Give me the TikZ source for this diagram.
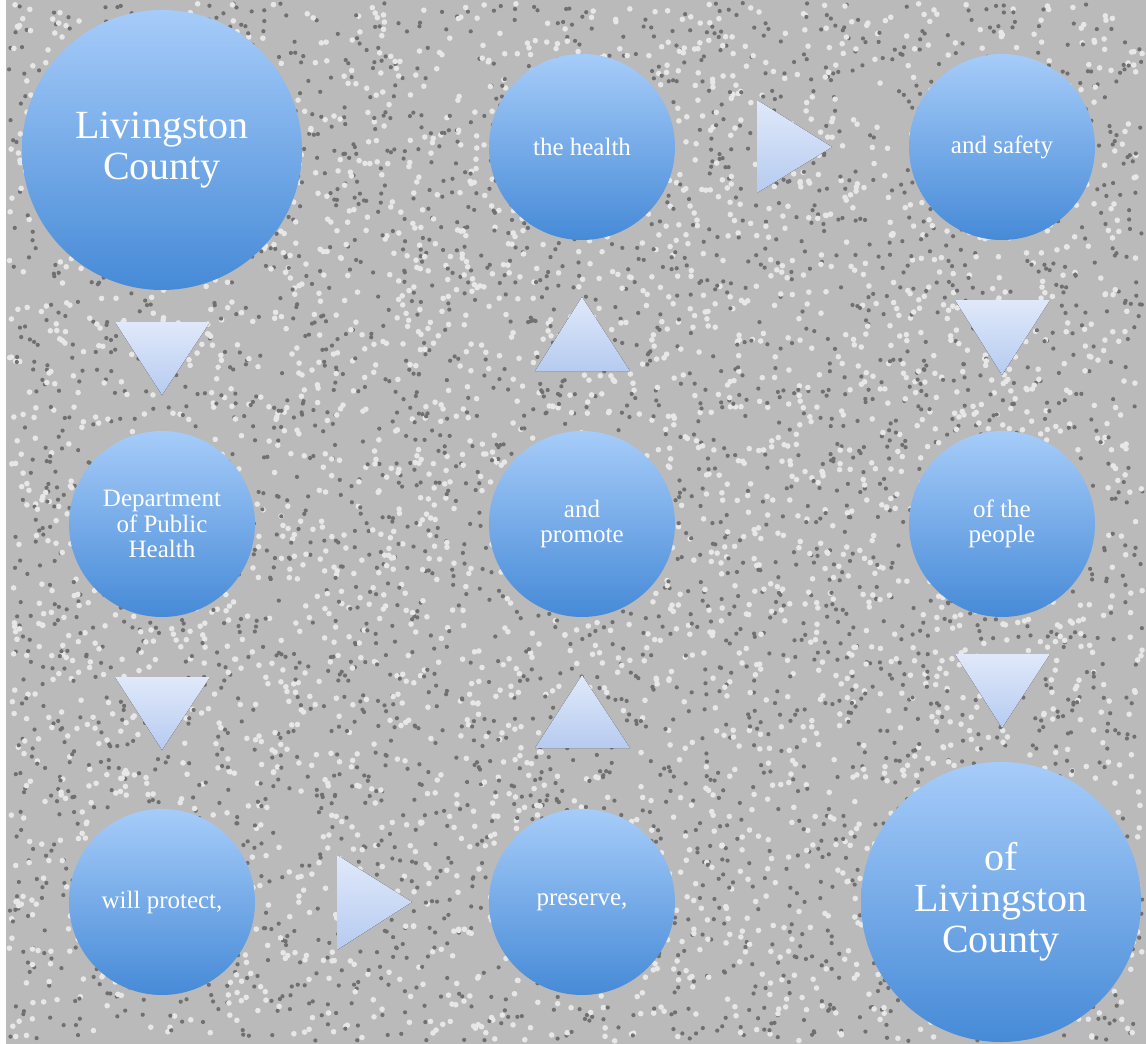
\documentclass[tikz,border=0pt]{standalone}
\usepackage{fontspec}
\setmainfont{Liberation Serif}
\definecolor{granite}{RGB}{186,186,186}
\definecolor{bubbletop}{RGB}{166,204,249}
\definecolor{bubblebot}{RGB}{70,138,215}
\definecolor{tritop}{RGB}{224,233,250}
\definecolor{tribot}{RGB}{182,203,240}
\begin{document}
\begin{tikzpicture}[x=1pt,y=-1pt,
    bubble/.style={circle, minimum size=186pt, inner sep=0pt, align=center, text=white,
      top color=bubbletop, bottom color=bubblebot, font=\fontsize{25}{25.5}\selectfont},
    bigbubble/.style={bubble, minimum size=280pt, font=\fontsize{40}{41}\selectfont},
    tri/.style={top color=tritop, bottom color=tribot}]
    \useasboundingbox (0,0) rectangle (1146,1044);
    % background
    \fill[white] (0,0) rectangle (1146,1044);
    \fill[granite] (6,0) rectangle (1146,1044);
    \pgfmathsetseed{11}
    \foreach \i in {1,...,3500} {
      \pgfmathsetmacro\px{9+1134*rnd}
      \pgfmathsetmacro\py{3+1038*rnd}
      \fill[granite!60!black] (\px,\py) circle (2.1pt);
      \pgfmathsetmacro\qx{9+1134*rnd}
      \pgfmathsetmacro\qy{3+1038*rnd}
      \fill[granite!35!white] (\qx,\qy) circle (2.8pt);
    }
    % circles
    \node[bigbubble] (county) at (162,150) {Livingston\\County};
    \node[bubble] (health) at (582,147) {the health};
    \node[bubble] (safety) at (1002,147) {and safety};
    \node[bubble] (dept) at (162,524) {Department\\of Public\\Health};
    \node[bubble] (promote) at (582,524) {and\\promote};
    \node[bubble] (people) at (1002,524) {of the\\people};
    \node[bubble] (protect) at (162,902) {will protect,};
    \node[bubble] (preserve) at (582,902) {preserve,};
    \node[bigbubble] (ofcounty) at (1001,902) {of\\Livingston\\County};
    % triangles
    \fill[tri] (115,322) -- (210,322) -- (162,395) -- cycle;
    \fill[tri] (115,677) -- (210,677) -- (162,750) -- cycle;
    \fill[tri] (337,855) -- (412,902) -- (337,950) -- cycle;
    \fill[tri] (535,748) -- (582,675) -- (630,748) -- cycle;
    \fill[tri] (535,371) -- (582,297) -- (630,371) -- cycle;
    \fill[tri] (757,100) -- (832,147) -- (757,193) -- cycle;
    \fill[tri] (955,300) -- (1050,300) -- (1002,375) -- cycle;
    \fill[tri] (955,654) -- (1050,654) -- (1002,728) -- cycle;
\end{tikzpicture}
\end{document}
